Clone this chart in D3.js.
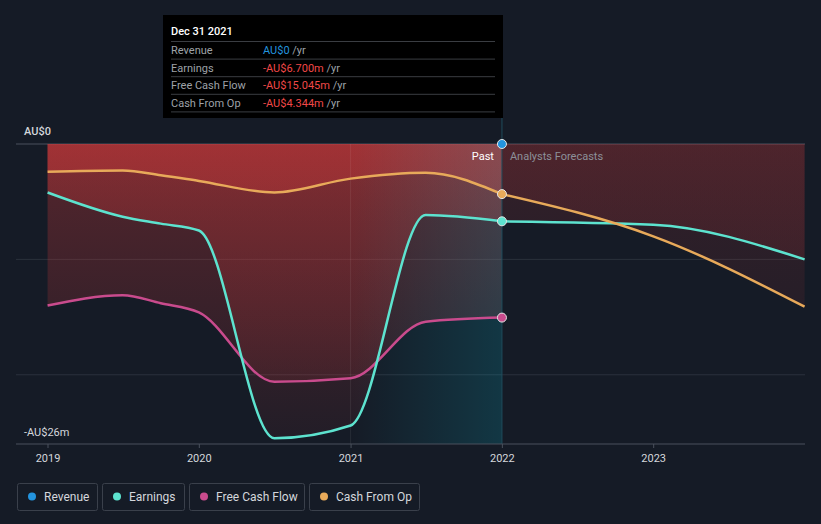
<!DOCTYPE html>
<html lang="en">
<head>
  <meta charset="UTF-8" />
  <title>Earnings and Revenue History</title>
  <script src="https://d3js.org/d3.v7.min.js"></script>
  <style>
    * { box-sizing: border-box; }
    body {
      margin: 0; padding: 0;
      background: #151b26;
      font-family: Roboto, "Open Sans", Arial, sans-serif;
      overflow: hidden;
    }
    .tick-label { font-size: 11px; fill: #d4d7dc; }
    .legend-text { font-size: 12px; fill: #d4d7dc; }
  </style>
</head>
<body>
  <div id="chart"></div>

  <script>
    // past values, AU$ millions
    const pastDates = ['2018-12-31', '2019-06-30', '2019-09-30', '2019-12-31', '2020-06-30', '2020-12-31', '2021-06-30', '2021-12-31'];
    const revenue   = [0, 0, 0, 0, 0, 0, 0, 0];
    const earnings  = [-4.2, -6.3, -6.9, -7.5, -25.5, -24.4, -6.15, -6.7];
    const freeCash  = [-14.0, -13.1, -13.8, -14.6, -20.6, -20.3, -15.4, -15.045];
    const cashOp    = [-2.4, -2.3, -2.7, -3.2, -4.2, -3.0, -2.5, -4.344];

    // analyst forecasts
    const fcDates    = ['2021-12-31', '2022-12-31', '2023-12-31'];
    const fcEarnings = [-6.7, -7.0, -10.0];
    const fcCashOp   = [-4.344, -8.0, -14.1];

    const yearTicks = ['2019', '2020', '2021', '2022', '2023'];

    const series = [
      { name: 'Revenue', color: '#2394df' },
      { name: 'Earnings', color: '#5de3cf' },
      { name: 'Free Cash Flow', color: '#c94b8d' },
      { name: 'Cash From Op', color: '#e8aa5a' }
    ];

    const tooltipRows = [
      { label: 'Revenue', value: 'AU$0', color: '#2394df' },
      { label: 'Earnings', value: '-AU$6.700m', color: '#f04848' },
      { label: 'Free Cash Flow', value: '-AU$15.045m', color: '#f04848' },
      { label: 'Cash From Op', value: '-AU$4.344m', color: '#f04848' }
    ];

    const W = 821, H = 524;
    const parse = d3.timeParse('%Y-%m-%d');
    const toYear = s => d3.timeParse('%Y')(s);

    const x = d3.scaleTime().domain([toYear('2019'), toYear('2024')]).range([48, 805]);
    const y = d3.scaleLinear().domain([-26, 0]).range([444, 144]);
    const plotLeft = 16, plotRight = 805;

    const svg = d3.select('#chart').append('svg')
      .attr('width', W).attr('height', H);

    const defs = svg.append('defs');
    const pastGrad = defs.append('linearGradient').attr('id', 'pastGrad')
      .attr('gradientUnits', 'userSpaceOnUse').attr('x1', 0).attr('x2', 0).attr('y1', y(0)).attr('y2', y(-26));
    pastGrad.append('stop').attr('offset', 0).attr('stop-color', '#e03c3c').attr('stop-opacity', 0.32);
    pastGrad.append('stop').attr('offset', 1).attr('stop-color', '#e03c3c').attr('stop-opacity', 0.06);

    const fcGrad = defs.append('linearGradient').attr('id', 'fcGrad')
      .attr('gradientUnits', 'userSpaceOnUse').attr('x1', 0).attr('x2', 0).attr('y1', y(0)).attr('y2', y(-26));
    fcGrad.append('stop').attr('offset', 0).attr('stop-color', '#e03c3c').attr('stop-opacity', 0.15);
    fcGrad.append('stop').attr('offset', 1).attr('stop-color', '#e03c3c').attr('stop-opacity', 0.03);

    const bandGrad = defs.append('linearGradient').attr('id', 'bandGrad')
      .attr('x1', 0).attr('x2', 1).attr('y1', 0).attr('y2', 0);
    bandGrad.append('stop').attr('offset', 0).attr('stop-color', '#00e5ff').attr('stop-opacity', 0);
    bandGrad.append('stop').attr('offset', 1).attr('stop-color', '#00e5ff').attr('stop-opacity', 0.14);

    const past = pastDates.map((d, i) => ({
      date: parse(d), rev: revenue[i], earn: earnings[i], fcf: freeCash[i], cfo: cashOp[i]
    }));
    const fc = fcDates.map((d, i) => ({ date: parse(d), earn: fcEarnings[i], cfo: fcCashOp[i] }));

    // gridlines
    svg.selectAll('.grid')
      .data([0, -10, -20])
      .join('line')
      .attr('x1', plotLeft).attr('x2', plotRight)
      .attr('y1', d => y(d)).attr('y2', d => y(d))
      .attr('stroke', d => d === 0 ? '#4a505c' : '#2b313c')
      .attr('stroke-width', 1);

    const area = key => d3.area().curve(d3.curveMonotoneX)
      .x(d => x(d.date)).y0(y(0)).y1(d => y(d[key]));
    const line = key => d3.line().curve(d3.curveMonotoneX)
      .x(d => x(d.date)).y(d => y(d[key]));

    // areas
    ['cfo', 'earn', 'fcf'].forEach(k => {
      svg.append('path').datum(past).attr('d', area(k)).attr('fill', 'url(#pastGrad)');
    });
    ['cfo', 'earn'].forEach(k => {
      svg.append('path').datum(fc).attr('d', area(k)).attr('fill', 'url(#fcGrad)');
    });

    // last-year highlight band
    const bandStart = parse('2020-12-31'), bandEnd = parse('2021-12-31');
    svg.append('rect')
      .attr('x', x(bandStart)).attr('y', y(0))
      .attr('width', x(bandEnd) - x(bandStart)).attr('height', y(-26) - y(0))
      .attr('fill', 'url(#bandGrad)');
    svg.append('line')
      .attr('x1', x(bandStart)).attr('x2', x(bandStart))
      .attr('y1', y(0)).attr('y2', y(-26))
      .attr('stroke', 'rgba(255,255,255,0.08)');
    svg.append('line')
      .attr('x1', x(bandEnd)).attr('x2', x(bandEnd))
      .attr('y1', 118).attr('y2', y(-26))
      .attr('stroke', '#1f4b5c').attr('stroke-width', 1);

    // x axis
    svg.append('line')
      .attr('x1', plotLeft).attr('x2', plotRight)
      .attr('y1', y(-26)).attr('y2', y(-26))
      .attr('stroke', '#4a505c');
    svg.selectAll('.xtick')
      .data(yearTicks)
      .join('line')
      .attr('x1', d => x(toYear(d))).attr('x2', d => x(toYear(d)))
      .attr('y1', y(-26)).attr('y2', y(-26) + 4)
      .attr('stroke', '#4a505c');
    svg.selectAll('.xlabel')
      .data(yearTicks)
      .join('text')
      .attr('class', 'tick-label')
      .attr('x', d => x(toYear(d)))
      .attr('y', 462)
      .attr('text-anchor', 'middle')
      .text(d => d);

    // y labels
    svg.append('text').attr('class', 'tick-label')
      .attr('x', 24).attr('y', y(0) - 9).attr('font-weight', 500).attr('fill', '#fff')
      .text('AU$0');
    svg.append('text').attr('class', 'tick-label')
      .attr('x', 24).attr('y', y(-26) - 8).attr('fill', '#fff')
      .text('-AU$26m');

    // Past / forecast labels
    svg.append('text')
      .attr('x', x(bandEnd) - 8).attr('y', 160)
      .attr('text-anchor', 'end').attr('font-size', 11).attr('fill', '#ffffff')
      .text('Past');
    svg.append('text')
      .attr('x', x(bandEnd) + 8).attr('y', 160)
      .attr('font-size', 11).attr('fill', '#8c9099')
      .text('Analysts Forecasts');

    // lines
    const lineKeys = [['fcf', '#c94b8d'], ['earn', '#5de3cf'], ['cfo', '#e8aa5a']];
    lineKeys.forEach(([k, c]) => {
      svg.append('path').datum(past).attr('d', line(k))
        .attr('fill', 'none').attr('stroke', c).attr('stroke-width', 2.5);
    });
    [['earn', '#5de3cf'], ['cfo', '#e8aa5a']].forEach(([k, c]) => {
      svg.append('path').datum(fc).attr('d', line(k))
        .attr('fill', 'none').attr('stroke', c).attr('stroke-width', 2.5);
    });

    // end-point markers
    const last = past[past.length - 1];
    [['rev', '#2394df'], ['earn', '#5de3cf'], ['fcf', '#c94b8d'], ['cfo', '#e8aa5a']].forEach(([k, c]) => {
      svg.append('circle')
        .attr('cx', x(last.date)).attr('cy', y(last[k]))
        .attr('r', 4.5).attr('fill', c)
        .attr('stroke', '#e6e6e6').attr('stroke-width', 1);
    });

    // tooltip
    const tip = svg.append('g');
    tip.append('rect').attr('x', 163).attr('y', 15).attr('width', 340).attr('height', 103).attr('fill', '#000');
    tip.append('text').attr('x', 171).attr('y', 35).attr('font-size', 11).attr('font-weight', 500)
      .attr('fill', '#fff').text('Dec 31 2021');
    tip.selectAll('.sep')
      .data([0, 1, 2, 3, 4])
      .join('line')
      .attr('x1', 171).attr('x2', 495)
      .attr('y1', i => 41.5 + i * 17.6).attr('y2', i => 41.5 + i * 17.6)
      .attr('stroke', '#3a3d42');
    tooltipRows.forEach((r, i) => {
      const ty = 54 + i * 17.6;
      tip.append('text').attr('x', 171).attr('y', ty).attr('font-size', 11).attr('fill', '#9ea2a8').text(r.label);
      const t = tip.append('text').attr('x', 263).attr('y', ty).attr('font-size', 11);
      t.append('tspan').attr('fill', r.color).text(r.value);
      t.append('tspan').attr('fill', '#9ea2a8').text(' /yr');
    });

    // legend
    const legendBoxes = [[17, 80], [102, 82], [189, 115], [309, 110]];
    const leg = svg.append('g');
    series.forEach((s, i) => {
      const [bx, bw] = legendBoxes[i];
      leg.append('rect').attr('x', bx + 0.5).attr('y', 483.5).attr('width', bw).attr('height', 27)
        .attr('rx', 2).attr('fill', 'none').attr('stroke', '#3a404b');
      leg.append('circle').attr('cx', bx + 15).attr('cy', 496.5).attr('r', 4).attr('fill', s.color);
      leg.append('text').attr('class', 'legend-text').attr('x', bx + 27).attr('y', 501).text(s.name);
    });
  </script>
</body>
</html>
